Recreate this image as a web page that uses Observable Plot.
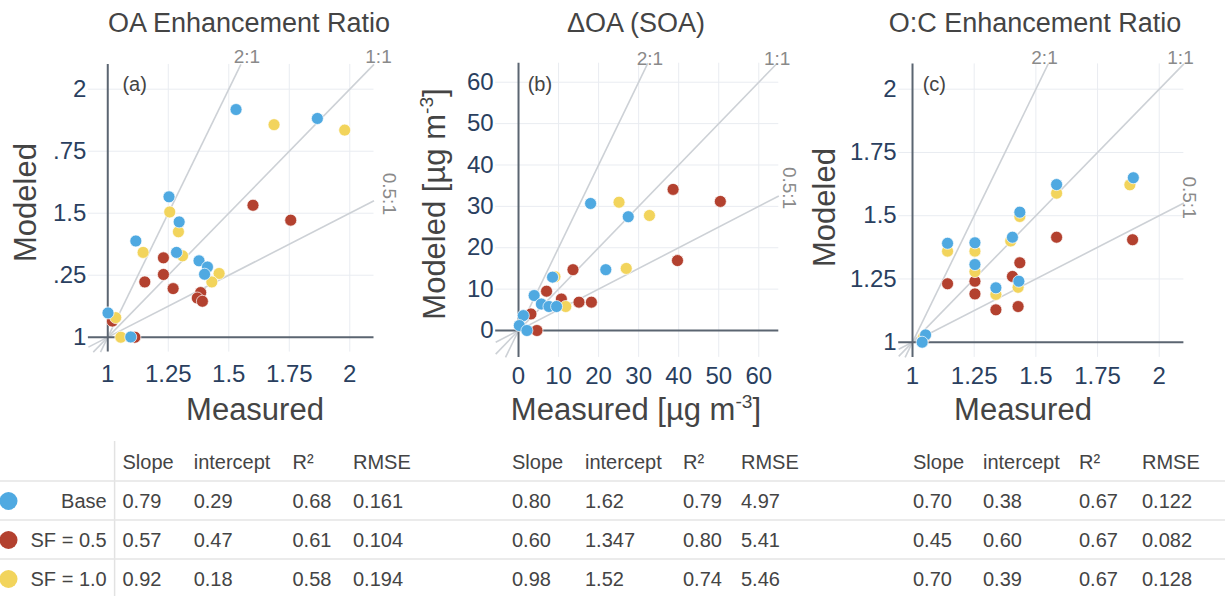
<!DOCTYPE html>
<html>
<head>
<meta charset="utf-8">
<script src="https://cdn.jsdelivr.net/npm/d3@7"></script>
<script src="https://cdn.jsdelivr.net/npm/@observablehq/plot@0.6"></script>
<style>
  html, body { margin: 0; padding: 0; background: #ffffff; }
  #root { position: relative; width: 1225px; height: 596px; overflow: hidden; background: #ffffff;
          font-family: "Liberation Sans", Arial, Helvetica, sans-serif; }
  #root > svg { position: absolute; top: 0; }
</style>
</head>
<body>
<div id="root"></div>
<script>
// ---------------- DATA ----------------
const seriesNames = ["Base", "SF = 0.5", "SF = 1.0"];
const seriesColors = ["#4fa9e1", "#b3412f", "#f2d45c"];

const panelTitles = ["OA Enhancement Ratio", "ΔOA (SOA)", "O:C Enhancement Ratio"];
const panelLetters = ["(a)", "(b)", "(c)"];
const ratioSlopes = [2, 1, 0.5];
const ratioLabels = ["2:1", "1:1", "0.5:1"];

// Panel (a) OA enhancement ratio
const oaTicks = [1, 1.25, 1.5, 1.75, 2];
const oaXTickLabels = ["1", "1.25", "1.5", "1.75", "2"];
const oaYTickLabels = ["1", ".25", "1.5", ".75", "2"];
const oaBaseX = [1.53, 1.866, 1.253, 1.295, 1.116, 1.284, 1.377, 1.412, 1.40, 1.001, 1.095];
const oaBaseY = [1.918, 1.882, 1.566, 1.465, 1.388, 1.342, 1.308, 1.283, 1.254, 1.098, 1.001];
const oaSF05X = [1.60, 1.756, 1.23, 1.23, 1.153, 1.27, 1.384, 1.37, 1.391, 1.019, 1.112];
const oaSF05Y = [1.532, 1.472, 1.32, 1.253, 1.223, 1.196, 1.18, 1.158, 1.145, 1.065, 1.0];
const oaSF10X = [1.687, 1.979, 1.256, 1.292, 1.146, 1.309, 1.46, 1.43, 1.033, 1.054];
const oaSF10Y = [1.857, 1.835, 1.505, 1.425, 1.342, 1.328, 1.257, 1.223, 1.079, 1.0];

// Panel (b) ΔOA (SOA), µg m-3
const soaTicks = [0, 10, 20, 30, 40, 50, 60];
const soaTickLabels = ["0", "10", "20", "30", "40", "50", "60"];
const soaBaseX = [18.0, 27.4, 21.8, 8.5, 3.9, 5.7, 7.6, 9.5, 1.2, 0.2, 2.1];
const soaBaseY = [30.7, 27.5, 14.7, 12.9, 8.45, 6.4, 5.8, 5.8, 3.6, 1.2, 0.0];
const soaSF05X = [38.6, 50.4, 39.7, 13.6, 7.0, 10.7, 15.1, 18.2, 3.1, 4.6];
const soaSF05Y = [34.1, 31.2, 16.9, 14.7, 9.5, 7.6, 6.85, 6.85, 4.0, 0.0];
const soaSF10X = [25.1, 32.7, 26.9, 9.1, 11.8];
const soaSF10Y = [31.0, 27.8, 15.0, 13.0, 5.8];

// Panel (c) O:C enhancement ratio
const ocTicks = [1, 1.25, 1.5, 1.75, 2];
const ocTickLabels = ["1", "1.25", "1.5", "1.75", "2"];
const ocBaseX = [1.895, 1.584, 1.435, 1.405, 1.142, 1.253, 1.253, 1.338, 1.431, 1.053, 1.039];
const ocBaseY = [1.650, 1.623, 1.514, 1.415, 1.391, 1.393, 1.307, 1.215, 1.241, 1.029, 1.0];
const ocSF05X = [1.584, 1.892, 1.435, 1.405, 1.142, 1.253, 1.253, 1.338, 1.428, 1.047];
const ocSF05Y = [1.415, 1.405, 1.314, 1.260, 1.231, 1.241, 1.191, 1.128, 1.141, 1.017];
const ocSF10X = [1.881, 1.584, 1.435, 1.398, 1.142, 1.253, 1.253, 1.338, 1.428, 1.045];
const ocSF10Y = [1.622, 1.589, 1.497, 1.40, 1.36, 1.36, 1.279, 1.189, 1.217, 1.02];

// Statistics table
const statHeaders = ["Slope", "intercept", "R²", "RMSE"];
const statsOA  = [["0.79", "0.29", "0.68", "0.161"], ["0.57", "0.47", "0.61", "0.104"], ["0.92", "0.18", "0.58", "0.194"]];
const statsSOA = [["0.80", "1.62", "0.79", "4.97"], ["0.60", "1.347", "0.80", "5.41"], ["0.98", "1.52", "0.74", "5.46"]];
const statsOC  = [["0.70", "0.38", "0.67", "0.122"], ["0.45", "0.60", "0.67", "0.082"], ["0.70", "0.39", "0.67", "0.128"]];

// ---------------- LAYOUT / STYLE ----------------
const FONT = "'Liberation Sans', Arial, Helvetica, sans-serif";
const TICK_COLOR = "#2a3f5f";
const TEXT_COLOR = "#444444";
const DOT_R = 6;

const panels = [
  { title: panelTitles[0], letter: panelLetters[0], origin: 1,
    xDomain: [0.92, 2.1], yDomain: [0.94, 2.1],
    xTicks: oaTicks, xTickLabels: oaXTickLabels, yTicks: oaTicks, yTickLabels: oaYTickLabels,
    base: [oaBaseX, oaBaseY], sf05: [oaSF05X, oaSF05Y], sf10: [oaSF10X, oaSF10Y],
    left: 0, width: 410, mL: 87.9, mR: 36.5, mT: 63.9, mB: 78.4, xPad: 13, yPad: 2,
    letterDx: 34, letterDy: 20,
    labOff: [[6, -7.4], [4.5, -7.4], [15.5, -7]],
    titleX: 249, xLabX: 255, yLabX: 36, yLabY: 202.5,
    xLabel: [["Measured", false]], yLabel: [["Modeled", false]] },
  { title: panelTitles[1], letter: panelLetters[1], origin: 0,
    xDomain: [-5.7, 65], yDomain: [-6.5, 64.6],
    xTicks: soaTicks, xTickLabels: soaTickLabels, yTicks: soaTicks, yTickLabels: soaTickLabels,
    base: [soaBaseX, soaBaseY], sf05: [soaSF05X, soaSF05Y], sf10: [soaSF10X, soaSF10Y],
    left: 410, width: 400, mL: 85.2, mR: 31.7, mT: 62.7, mB: 73.1, xPad: 10, yPad: 2,
    letterDx: 32, letterDy: 21,
    labOff: [[2, -4.2], [0, -4.2], [10.7, -8]],
    titleX: 636, xLabX: 636, yLabX: 445, yLabY: 204,
    xLabel: [["Measured [µg m", false], ["-3", true], ["]", false]],
    yLabel: [["Modeled [µg m", false], ["-3", true], ["]", false]] },
  { title: panelTitles[2], letter: panelLetters[2], origin: 1,
    xDomain: [0.944, 2.1], yDomain: [0.94, 2.1],
    xTicks: ocTicks, xTickLabels: ocTickLabels, yTicks: ocTicks, yTickLabels: ocTickLabels,
    base: [ocBaseX, ocBaseY], sf05: [ocSF05X, ocSF05Y], sf10: [ocSF10X, ocSF10Y],
    left: 810, width: 415, mL: 88.2, mR: 41.6, mT: 63.4, mB: 73.1, xPad: 10, yPad: 2,
    letterDx: 24, letterDy: 20.5,
    labOff: [[-3.7, -6], [-3.4, -6], [5.6, -5.5]],
    titleX: 1035, xLabX: 1023, yLabX: 835, yLabY: 207.5,
    xLabel: [["Measured", false]], yLabel: [["Modeled", false]] }
];

const tableCols = [[122.5, 193.7, 292.5, 353], [512, 585, 683, 741], [913, 983, 1079, 1142]];
const tableStats = [statsOA, statsSOA, statsOC];

const root = document.getElementById("root");

function zip(xs, ys) { return xs.map((x, i) => ({x, y: ys[i]})); }

function refData(p) {
  const [x0, x1] = p.xDomain, [y0, y1] = p.yDomain, c = p.origin;
  return ratioSlopes.map((k, i) => {
    const xlo = Math.max(x0, c + (y0 - c) / k);
    const xhi = Math.min(x1, c + (y1 - c) / k);
    return {label: ratioLabels[i], k, xlo, ylo: c + k * (xlo - c), xhi, yhi: c + k * (xhi - c),
            dx: p.labOff[i][0], dy: p.labOff[i][1]};
  });
}

panels.forEach(p => {
  const refs = refData(p);
  const xMap = new Map(p.xTicks.map((t, i) => [t, p.xTickLabels[i]]));
  const yMap = new Map(p.yTicks.map((t, i) => [t, p.yTickLabels[i]]));
  const labelMarks = refs.map(r => Plot.text([r], {
    x: "xhi", y: "yhi", text: "label",
    rotate: r.k < 1 ? 90 : 0,
    textAnchor: "middle", lineAnchor: "middle",
    dx: r.dx, dy: r.dy,
    fill: "#8a8a8a", fontSize: 19
  }));
  const dotOpts = {x: "x", y: "y", r: DOT_R, stroke: "#ffffff", strokeWidth: 0.7};
  const chart = Plot.plot({
    width: p.width, height: 430,
    marginLeft: p.mL, marginRight: p.mR, marginTop: p.mT, marginBottom: p.mB,
    x: {domain: p.xDomain, label: null},
    y: {domain: p.yDomain, label: null},
    style: {fontFamily: FONT, fontSize: "24px", color: TICK_COLOR, background: "transparent", overflow: "visible"},
    marks: [
      Plot.gridX(p.xTicks.filter(t => t !== p.origin), {stroke: "#e9ecf1", strokeOpacity: 1, strokeWidth: 1}),
      Plot.gridY(p.yTicks.filter(t => t !== p.origin), {stroke: "#e9ecf1", strokeOpacity: 1, strokeWidth: 1}),
      Plot.link(refs, {x1: "xlo", y1: "ylo", x2: "xhi", y2: "yhi", stroke: "#cdd1d6", strokeWidth: 1.6}),
      Plot.ruleX([p.origin], {stroke: "#5b6571", strokeWidth: 2}),
      Plot.ruleY([p.origin], {stroke: "#5b6571", strokeWidth: 2}),
      ...labelMarks,
      Plot.dot(zip(p.sf05[0], p.sf05[1]), {...dotOpts, fill: seriesColors[1]}),
      Plot.dot(zip(p.sf10[0], p.sf10[1]), {...dotOpts, fill: seriesColors[2]}),
      Plot.dot(zip(p.base[0], p.base[1]), {...dotOpts, fill: seriesColors[0]}),
      Plot.text([p.letter], {frameAnchor: "top-left", dx: p.letterDx, dy: p.letterDy, textAnchor: "start", lineAnchor: "middle",
                             fill: TEXT_COLOR, fontSize: 20}),
      Plot.axisX(p.xTicks, {tickSize: 0, tickPadding: p.xPad, tickFormat: d => xMap.get(d), label: null, fill: TICK_COLOR}),
      Plot.axisY(p.yTicks, {tickSize: 0, tickPadding: p.yPad, tickFormat: d => yMap.get(d), label: null, fill: TICK_COLOR})
    ]
  });
  chart.style.left = p.left + "px";
  chart.style.position = "absolute";
  chart.style.top = "0px";
  root.appendChild(chart);
});

// ---------- overlay: titles, axis titles, statistics table ----------
const ov = d3.select(root).append("svg")
  .attr("width", 1225).attr("height", 596)
  .style("position", "absolute").style("left", "0px").style("top", "0px")
  .style("pointer-events", "none")
  .style("font-family", FONT);

function richText(sel, parts, size) {
  parts.forEach(([txt, sup], i) => {
    const t = sel.append("tspan").text(txt);
    if (sup) t.attr("font-size", size * 0.62).attr("dy", -size * 0.38);
    else if (i > 0 && parts[i - 1][1]) t.attr("dy", size * 0.38);
  });
}

panels.forEach(p => {
  ov.append("text").attr("x", p.titleX).attr("y", 31.7).attr("text-anchor", "middle")
    .attr("font-size", 27).attr("fill", TEXT_COLOR).text(p.title);
  const xl = ov.append("text").attr("x", p.xLabX).attr("y", 420).attr("text-anchor", "middle")
    .attr("font-size", 31).attr("fill", TEXT_COLOR);
  richText(xl, p.xLabel, 31);
  const yl = ov.append("text").attr("transform", `translate(${p.yLabX},${p.yLabY}) rotate(-90)`)
    .attr("text-anchor", "middle").attr("font-size", 31).attr("fill", TEXT_COLOR);
  richText(yl, p.yLabel, 31);
});

// table
const headY = 469, rowY = [508, 547, 586], sepY = [481, 520, 559];
ov.append("line").attr("x1", 114.6).attr("x2", 114.6).attr("y1", 441).attr("y2", 596)
  .attr("stroke", "#e2e2e2").attr("stroke-width", 1.5);
sepY.forEach(y => ov.append("line").attr("x1", 0).attr("x2", 1225).attr("y1", y).attr("y2", y)
  .attr("stroke", "#e4e4e4").attr("stroke-width", 1.5));
tableCols.forEach((cols, pi) => {
  cols.forEach((cx, ci) => {
    ov.append("text").attr("x", cx).attr("y", headY).attr("font-size", 20).attr("fill", TEXT_COLOR).text(statHeaders[ci]);
    tableStats[pi].forEach((row, ri) => {
      ov.append("text").attr("x", cx).attr("y", rowY[ri]).attr("font-size", 20).attr("fill", TEXT_COLOR).text(row[ci]);
    });
  });
});
seriesNames.forEach((name, i) => {
  ov.append("circle").attr("cx", 8.5).attr("cy", rowY[i] - 7).attr("r", 9).attr("fill", seriesColors[i]);
  ov.append("text").attr("x", 106.7).attr("y", rowY[i]).attr("text-anchor", "end").attr("font-size", 20)
    .attr("fill", TEXT_COLOR).text(name);
});
</script>
</body>
</html>
